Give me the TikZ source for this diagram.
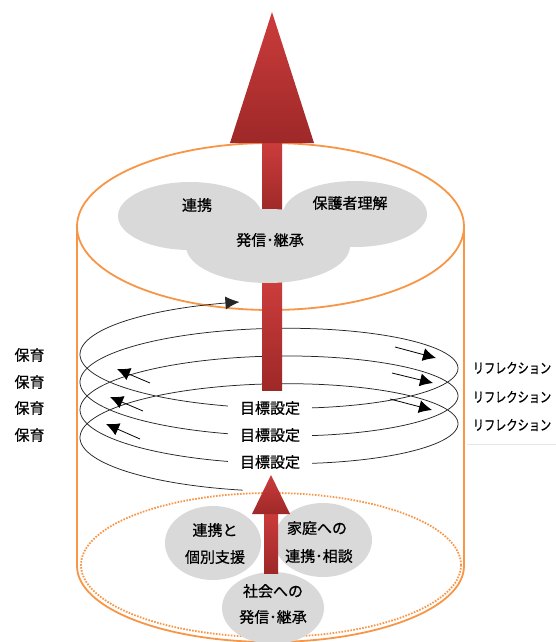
\documentclass[tikz,border=0pt]{standalone}
\usepackage{fontspec}
\setmainfont{Noto Sans CJK JP}[FakeBold=0.8]
\usetikzlibrary{arrows.meta}
\definecolor{cylorange}{RGB}{247,150,70}
\definecolor{cloudgray}{RGB}{217,217,217}
\definecolor{redtop}{RGB}{204,60,60}
\definecolor{redbot}{RGB}{158,40,40}
\begin{document}
\begin{tikzpicture}[x=1pt,y=-1pt,
  cyl/.style={draw=cylorange, line width=1.8pt},
  dotcyl/.style={draw=cylorange, line width=1.8pt, dash pattern=on 1.6pt off 1.4pt},
  lobe/.style={fill=cloudgray},
  redshade/.style={top color=redtop, bottom color=redbot, draw=none},
  helix/.style={draw=black!85, line width=0.75pt},
  dirarrow/.style={draw=black, line width=0.8pt, -{Latex[length=13pt,width=13pt]}},
  lbl/.style={font=\fontsize{15}{17}\selectfont, inner sep=0pt},
  goal/.style={lbl, fill=white, inner xsep=12pt, inner ysep=2pt},
  refl/.style={font=\fontsize{14}{16}\selectfont, inner sep=0pt}
]
\useasboundingbox (0,0) rectangle (556,642);
\fill[white] (0,0) rectangle (556,642);

% cylinder
\draw[cyl] (77,226.5) -- (77,566)
  .. controls (77,608) and (163.6,642) .. (270.5,642)
  .. controls (377.4,642) and (464,608) .. (464,566) -- (464,226.5);
\draw[dotcyl] (271,565) ellipse [x radius=190, y radius=72];
\draw[cyl] (270.5,226.5) ellipse [x radius=193.5, y radius=83.5];

% faint box line of the reflection labels
\draw[gray!18, line width=0.6pt] (467,444) -- (556,444);

% helix
\draw[helix, -{Latex[length=14pt,width=13pt]}]
  plot[domain=8:1251, samples=420, smooth]
  ({269-189*sin(\x)},{444.5-0.077*\x+46.75*cos(\x)});

% direction arrows
\coordinate (la1s) at (150,383); \coordinate (la1e) at (117,369);
\coordinate (la2s) at (143,411); \coordinate (la2e) at (110,397);
\coordinate (la3s) at (140,439); \coordinate (la3e) at (106,424);
\coordinate (ra1s) at (395,347); \coordinate (ra1e) at (436,358);
\coordinate (ra2s) at (392,373); \coordinate (ra2e) at (433,383);
\coordinate (ra3s) at (390,399); \coordinate (ra3e) at (432,410);
\foreach \a in {la1,la2,la3,ra1,ra2,ra3}{
  \draw[dirarrow] (\a s) -- (\a e);
}

% big arrow shaft
\shade[redshade] (262,143) rectangle (282,212);
\shade[redshade] (262,282) rectangle (282,390);

% top cloud
\fill[lobe] (190,216) ellipse [x radius=72, y radius=34];
\fill[lobe] (355,214) ellipse [x radius=72, y radius=33];
\fill[lobe] (268,246) ellipse [x radius=82, y radius=37];

% big arrow head
\shade[redshade] (230,143) -- (272,12) -- (314,143) -- cycle;

\node[lbl] (t1) at (197,205) {連携};
\node[lbl] (t2) at (350,203) {保護者理解};
\node[lbl] (t3) at (270,240) {発信･継承};

% goals
\node[goal] (g1) at (270,408) {目標設定};
\node[goal] (g2) at (270,435) {目標設定};
\node[goal] (g3) at (270,462) {目標設定};

% left labels
\node[lbl] (h1) at (29.5,355) {保育};
\node[lbl] (h2) at (29.5,382) {保育};
\node[lbl] (h3) at (29.5,408) {保育};
\node[lbl] (h4) at (29.5,435) {保育};

% right labels
\node[refl] (r1) at (512,368) {\scalebox{0.8}[1]{リフレクション}};
\node[refl] (r2) at (512,397) {\scalebox{0.8}[1]{リフレクション}};
\node[refl] (r3) at (512,425) {\scalebox{0.8}[1]{リフレクション}};

% bottom cloud
\fill[lobe] (213,543) ellipse [x radius=48, y radius=37];
\fill[lobe] (323,540) ellipse [x radius=49, y radius=37];
\fill[lobe] (273,608) ellipse [x radius=51, y radius=36];

% small arrow
\shade[redshade] (264,512) rectangle (278,573);
\shade[redshade] (252,514) -- (271,475) -- (290,514) -- cycle;

\node[lbl] (b1) at (215,530) {連携と};
\node[lbl] (b2) at (215,557) {個別支援};
\node[lbl] (b3) at (317,528) {家庭への};
\node[lbl] (b4) at (319,556) {連携･相談};
\node[lbl] (b5) at (273,591) {社会への};
\node[lbl] (b6) at (273,617) {発信･継承};
\end{tikzpicture}
\end{document}
